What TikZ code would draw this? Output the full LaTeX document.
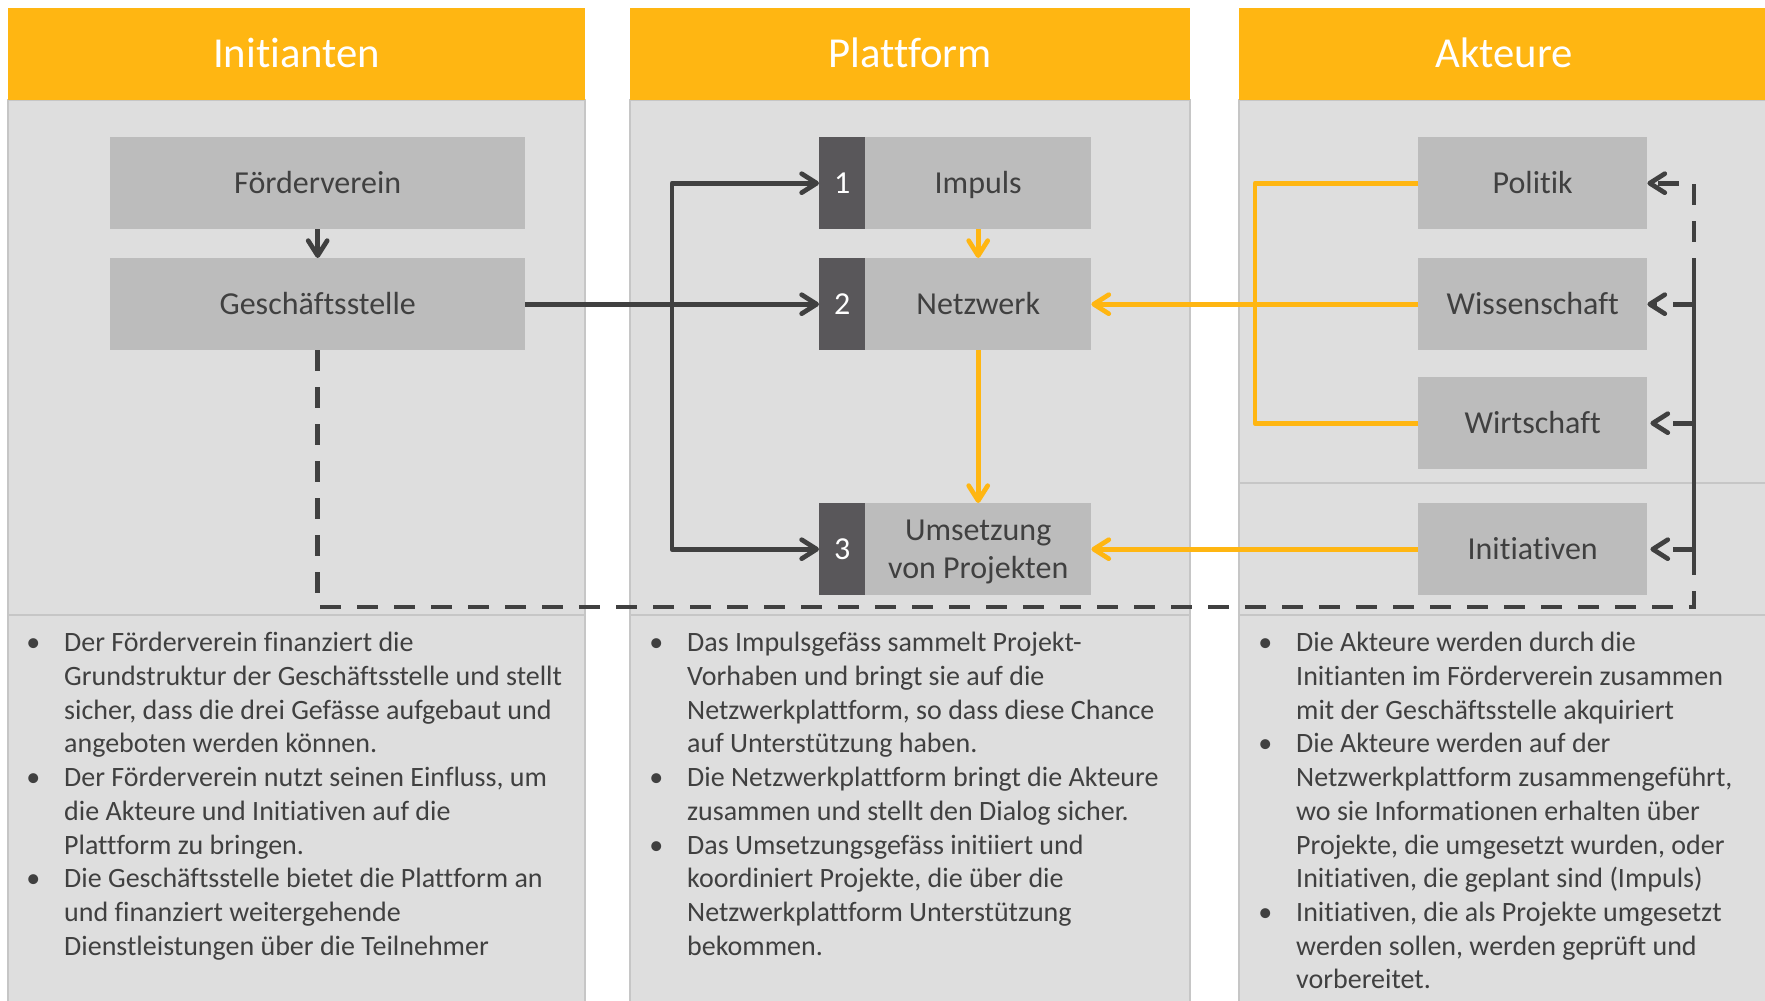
\documentclass[tikz,border=0pt]{standalone}
\usepackage{fontspec}
\setmainfont{Carlito}[Ligatures=NoCommon]
\usetikzlibrary{arrows.meta,calc}
\definecolor{orng}{HTML}{FFB612}
\definecolor{colbg}{HTML}{DEDEDE}
\definecolor{colln}{HTML}{C6C6C6}
\definecolor{boxbg}{HTML}{BCBCBC}
\definecolor{numbg}{HTML}{59575A}
\definecolor{txt}{HTML}{404040}
\definecolor{dk}{HTML}{404040}
\newcommand{\bulpt}{\leavevmode\llap{\textbullet\hspace{24pt}}}
\tikzset{
  colbody/.style={fill=colbg, draw=colln, line width=1.5pt},
  hdr/.style={fill=orng, inner sep=0, anchor=north west, minimum height=92pt},
  hdrtext/.style={inner sep=0, text=white, font=\fontsize{42.7}{50}\selectfont, text height=27.5pt, text depth=0pt},
  gbox/.style={fill=boxbg, inner sep=0, anchor=north west, minimum height=92pt, text=txt, font=\fontsize{32}{38}\selectfont, text height=20.6pt, text depth=0pt},
  gtext/.style={inner sep=0, text=txt, font=\fontsize{32}{38}\selectfont, text height=20.6pt, text depth=0pt},
  nbox/.style={fill=numbg, inner sep=0, anchor=north west, minimum height=92pt, minimum width=46pt, text=white, font=\fontsize{32}{38}\selectfont, text height=20.6pt, text depth=0pt},
  dkline/.style={draw=dk, line width=4.7pt, line join=round},
  orline/.style={draw=orng, line width=4.7pt, line join=round},
  tip/.style={-{Straight Barb[length=15pt,width=19pt,line cap=round,line join=round]}},
  dashln/.style={draw=dk, line width=4.7pt, dash pattern=on 21pt off 16pt},
  sepln/.style={draw=colln, line width=2pt},
  bodytext/.style={anchor=north west, inner sep=0, align=left, text=txt, font=\fontsize{28}{33.7}\selectfont}
}
\begin{document}
\begin{tikzpicture}[x=1pt,y=-1pt]
\useasboundingbox (0,0) rectangle (1765,1001);
\fill[white] (0,0) rectangle (1765,1001);
% column bodies
\draw[colbody] (8,100) rectangle (585,1010);
\draw[colbody] (630,100) rectangle (1190,1010);
\draw[colbody] (1239,100) rectangle (1775,1010);
% headers
\node[hdr, minimum width=577pt] (h1) at (8,8) {};
\node[hdr, minimum width=560pt] (h2) at (630,8) {};
\node[hdr, minimum width=536pt] (h3) at (1239,8) {};
\node[hdrtext] (h1t) at (h1.center) {Initianten};
\node[hdrtext] (h2t) at (h2.center) {Plattform};
\node[hdrtext] (h3t) at (1504,54) {Akteure};
% separators
\draw[sepln] (8,615) -- (585,615);
\draw[sepln] (630,615) -- (1190,615);
\draw[sepln] (1239,615) -- (1775,615);
\draw[sepln] (1239,483) -- (1775,483);
% left column boxes
\node[gbox, minimum width=415pt] (fv) at (110,137) {Förderverein};
\node[gbox, minimum width=415pt] (gs) at (110,258) {Geschäftsstelle};
% middle column boxes
\node[nbox] (n1) at (819,137) {1};
\node[gbox, minimum width=226pt] (b1) at (865,137) {Impuls};
\node[nbox] (n2) at (819,258) {2};
\node[gbox, minimum width=226pt] (b2) at (865,258) {Netzwerk};
\node[nbox] (n3) at (819,503) {3};
\node[gbox, minimum width=226pt] (b3) at (865,503) {};
\node[gtext] (b3a) at ([yshift=19pt]b3.center) {Umsetzung};
\node[gtext] (b3b) at ([yshift=-19pt]b3.center) {von Projekten};
% right column boxes
\node[gbox, minimum width=229pt] (pol) at (1418,137) {Politik};
\node[gbox, minimum width=229pt] (wis) at (1418,258) {Wissenschaft};
\node[gbox, minimum width=229pt] (wir) at (1418,377) {Wirtschaft};
\node[gbox, minimum width=229pt] (ini) at (1418,503) {Initiativen};
% coordinates
\coordinate (vj) at (672,304);
\coordinate (oj) at (1255,304);
\coordinate (dc) at (1694,607);
\coordinate (s1) at (1694,277);
\coordinate (s2) at (1694,563);
% dark connectors
\draw[dkline, tip] (fv.south) -- (gs.north);
\draw[dkline, tip] (gs.east) -- (n2.west);
\draw[dkline, tip] (vj) |- (n1.west);
\draw[dkline, tip] (vj) |- (n3.west);
% orange connectors
\draw[orline, tip] (b1.south) -- (b2.north);
\draw[orline, tip] (b2.south) -- (b3.north);
\draw[orline] (pol.west) -| (oj);
\draw[orline] (wir.west) -| (oj);
\draw[orline, tip] (wis.west) -- (b2.east);
\draw[orline, tip] (ini.west) -- (b3.east);
% dashed connectors
\draw[dashln, tip] (gs.south) |- (dc) |- (pol.east);
\draw[dkline] (s1) -- (s2);
\draw[dashln, tip] (dc |- wis.east) -- (wis.east);
\draw[dashln, tip] (dc |- wir.east) -- ([xshift=3pt]wir.east);
\draw[dashln, tip] (dc |- ini.east) -- ([xshift=3pt]ini.east);
% texts
\node[bodytext] (t1) at (64,628) {\bulpt\strut Der Förderverein finanziert die\\
Grundstruktur der Geschäftsstelle und stellt\\
sicher, dass die drei Gefässe aufgebaut und\\
angeboten werden können.\\
\bulpt Der Förderverein nutzt seinen Einfluss, um\\
die Akteure und Initiativen auf die\\
Plattform zu bringen.\\
\bulpt Die Geschäftsstelle bietet die Plattform an\\
und finanziert weitergehende\\
Dienstleistungen über die Teilnehmer};
\node[bodytext] (t2) at (687,628) {\bulpt\strut Das Impulsgefäss sammelt Projekt-\\
Vorhaben und bringt sie auf die\\
Netzwerkplattform, so dass diese Chance\\
auf Unterstützung haben.\\
\bulpt Die Netzwerkplattform bringt die Akteure\\
zusammen und stellt den Dialog sicher.\\
\bulpt Das Umsetzungsgefäss initiiert und\\
koordiniert Projekte, die über die\\
Netzwerkplattform Unterstützung\\
bekommen.};
\node[bodytext] (t3) at (1296,628) {\bulpt\strut Die Akteure werden durch die\\
Initianten im Förderverein zusammen\\
mit der Geschäftsstelle akquiriert\\
\bulpt Die Akteure werden auf der\\
Netzwerkplattform zusammengeführt,\\
wo sie Informationen erhalten über\\
Projekte, die umgesetzt wurden, oder\\
Initiativen, die geplant sind (Impuls)\\
\bulpt Initiativen, die als Projekte umgesetzt\\
werden sollen, werden geprüft und\\
vorbereitet.};
\end{tikzpicture}
\end{document}
